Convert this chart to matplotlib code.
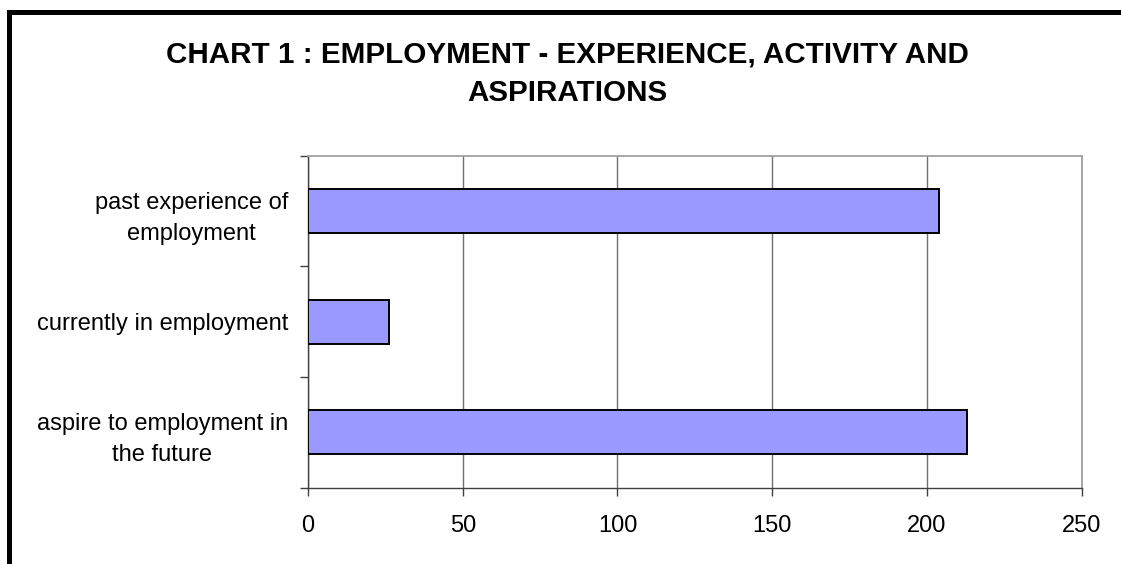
import matplotlib

matplotlib.use("Agg")
import matplotlib.pyplot as plt  # noqa: E402
from matplotlib.patches import Rectangle  # noqa: E402

plt.rcParams["font.family"] = ["Liberation Sans", "DejaVu Sans"]

# Chart 1 data, top row first
categories = [
    "past experience of\nemployment",
    "currently in employment",
    "aspire to employment in\nthe future",
]
counts = [204, 26, 213]
x_ticks = [0, 50, 100, 150, 200, 250]

fig = plt.figure(figsize=(11.21, 5.64), dpi=100)
ax = fig.add_axes([0.2748, 0.1353, 0.6901, 0.5886])

pos = list(range(len(categories)))
ax.barh(pos, counts, height=0.4, color="#9999ff", edgecolor="black",
        linewidth=1.4, zorder=3)

ax.set_xlim(0, 250)
ax.set_ylim(len(categories) - 0.5, -0.5)
ax.set_xticks(x_ticks)
ax.set_xticklabels([str(v) for v in x_ticks])
ax.xaxis.grid(True, color="#707070", linewidth=1.0, zorder=1)

# category labels sit between boundary ticks, as in a spreadsheet chart
ax.set_yticks(pos)
ax.set_yticklabels(categories, multialignment="center", linespacing=1.55)
ax.set_yticks([p - 0.5 for p in pos] + [pos[-1] + 0.5], minor=True)
ax.tick_params(axis="y", which="major", length=0, pad=14.5, labelsize=17)
ax.tick_params(axis="y", which="minor", length=6, width=1.0, color="#404040")
ax.tick_params(axis="x", length=6, width=1.0, color="#404040", pad=14,
               labelsize=17)

for side in ("left", "bottom"):
    ax.spines[side].set_color("#404040")
    ax.spines[side].set_linewidth(1.0)
for side in ("top", "right"):
    ax.spines[side].set_color("#a0a0a0")
    ax.spines[side].set_linewidth(1.3)

fig.text(0.506, 0.929, "CHART 1 : EMPLOYMENT - EXPERIENCE, ACTIVITY AND\nASPIRATIONS",
         ha="center", va="top", fontsize=21.3, fontweight="bold",
         linespacing=1.5)

# heavy outer frame around the chart area
frame = Rectangle((9.3 / 1121, -0.2), 2.0, 1.2 - 12.5 / 564,
                  transform=fig.transFigure, fill=False, edgecolor="black",
                  linewidth=3.6, clip_on=False)
fig.patches.append(frame)

fig.savefig("out.png", dpi=100)
